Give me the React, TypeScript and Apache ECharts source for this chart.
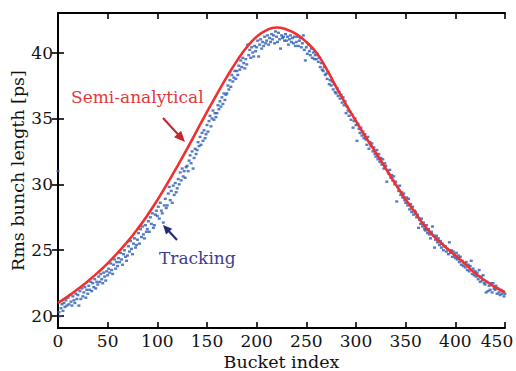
import React, { useEffect, useRef } from "react";
import * as echarts from "echarts";

const xTicks = [0, 50, 100, 150, 200, 250, 300, 350, 400, 450];
const yTicks = [20, 25, 30, 35, 40];

const curveBuckets = [0, 10, 20, 30, 40, 50, 60, 70, 80, 90, 100, 110, 120, 130, 140, 150, 160, 170, 180, 190, 200, 210, 220, 230, 240, 250, 260, 270, 280, 290, 300, 310, 320, 330, 340, 350, 360, 370, 380, 390, 400, 410, 420, 430, 440, 450];
const curveValues = [21.0, 21.5, 22.05, 22.65, 23.3, 24.0, 24.8, 25.65, 26.6, 27.65, 28.8, 30.05, 31.35, 32.7, 34.1, 35.5, 36.85, 38.15, 39.35, 40.4, 41.2, 41.7, 41.9, 41.75, 41.4, 40.8, 40.0, 38.8, 37.4, 36.05, 34.8, 33.55, 32.4, 31.2, 30.0, 28.85, 27.8, 26.75, 25.95, 25.25, 24.6, 23.95, 23.25, 22.7, 22.2, 21.8];

// one value per bucket, 0..450
const trackingValues = [
  31.0, 20.3, 20.0, 20.6, 20.9, 20.4, 21.0, 20.7, 21.2, 20.8,
  21.4, 20.9, 21.6, 21.1, 20.8, 21.5, 21.2, 21.0, 21.7, 21.3,
  21.6, 20.8, 21.9, 21.3, 22.1, 21.5, 21.8, 22.2, 21.4, 22.0,
  21.7, 22.3, 22.0, 22.6, 21.9, 22.5, 22.2, 22.8, 22.1, 22.6,
  22.4, 23.0, 22.6, 23.2, 22.8, 22.5, 23.3, 23.0, 22.7, 23.4,
  23.1, 23.6, 23.3, 24.0, 23.5, 23.2, 23.9, 24.3, 23.6, 24.1,
  23.8, 24.4, 24.1, 24.8, 24.3, 23.9, 24.7, 25.0, 24.5, 24.2,
  24.6, 25.3, 24.9, 25.7, 25.1, 24.7, 25.5, 25.9, 25.2, 25.4,
  25.8, 26.3, 25.5, 26.6, 26.0, 26.8, 26.2, 25.9, 26.9, 26.4,
  26.6, 27.2, 26.4, 27.5, 27.0, 27.8, 26.7, 26.9, 27.7, 28.0,
  27.6, 28.3, 27.4, 28.6, 28.0, 27.8, 27.1, 28.4, 28.9, 28.2,
  28.4, 29.3, 29.8, 28.8, 29.5, 28.6, 29.9, 29.2, 30.1, 29.4,
  29.7, 30.4, 30.0, 30.9, 30.3, 31.2, 30.6, 31.0, 30.5, 31.3,
  31.4, 31.0, 31.8, 32.2, 31.6, 32.5, 31.2, 32.0, 32.7, 32.3,
  32.6, 33.2, 32.9, 33.6, 33.0, 33.9, 33.3, 34.1, 33.5, 33.8,
  34.5, 34.0, 34.8, 35.2, 34.4, 35.0, 35.6, 34.9, 35.4, 35.1,
  35.4, 36.0, 35.7, 36.3, 35.9, 36.6, 36.1, 36.9, 36.4, 36.8,
  36.9, 37.5, 37.2, 37.9, 37.4, 38.3, 37.8, 38.1, 38.6, 38.0,
  38.6, 38.3, 39.0, 38.7, 39.4, 38.9, 39.6, 39.2, 38.8, 39.5,
  39.1, 40.6, 39.8, 40.2, 39.6, 40.4, 40.0, 39.7, 40.5, 40.1,
  40.4, 40.9, 39.7, 40.6, 41.0, 40.3, 40.8, 40.5, 41.2, 40.7,
  40.9, 41.3, 40.6, 41.1, 40.8, 41.4, 41.0, 41.3, 40.7, 41.6,
  41.2, 40.8, 41.5, 41.0, 40.3, 41.3, 41.1, 41.2, 40.9, 41.4,
  40.9, 41.2, 40.6, 41.0, 41.3, 40.8, 41.1, 40.7, 41.2, 40.5,
  40.8, 41.2, 40.5, 40.9, 41.1, 40.4, 40.7, 41.3, 40.2, 39.4,
  40.4, 39.9, 40.6, 40.1, 39.8, 40.3, 39.6, 40.0, 39.5, 39.8,
  39.5, 39.9, 39.3, 39.6, 38.9, 39.2, 38.7, 38.6, 38.9, 38.3,
  38.4, 38.0, 38.5, 37.6, 37.9, 37.5, 37.8, 37.2, 37.6, 37.0,
  36.9, 37.3, 36.7, 37.0, 36.5, 36.8, 36.2, 36.6, 36.0, 36.3,
  35.4, 35.9, 35.6, 35.2, 35.5, 34.9, 35.3, 34.3, 34.8, 35.0,
  34.5, 33.3, 34.6, 34.2, 33.9, 34.3, 33.7, 34.0, 33.5, 33.8,
  33.4, 33.0, 33.6, 32.7, 33.2, 32.9, 33.1, 32.5, 32.8, 32.3,
  32.1, 32.6, 31.9, 32.3, 31.7, 32.0, 31.5, 31.9, 31.2, 31.6,
  31.4, 30.2, 31.0, 30.8, 31.1, 30.5, 30.7, 30.3, 30.6, 30.0,
  30.2, 28.7, 29.8, 29.5, 29.9, 29.2, 29.4, 29.0, 29.3, 28.8,
  28.6, 29.0, 28.4, 28.9, 28.1, 28.5, 27.9, 28.3, 27.7, 28.0,
  27.9, 27.5, 27.7, 26.7, 27.3, 27.0, 27.4, 26.8, 27.1, 26.6,
  26.5, 26.9, 26.3, 26.6, 26.2, 25.9, 26.4, 26.8, 26.1, 25.2,
  25.8, 26.1, 25.6, 25.9, 25.4, 25.7, 25.2, 25.5, 25.0, 25.3,
  25.3, 24.9, 25.1, 24.7, 25.6, 24.8, 25.0, 24.5, 24.9, 24.6,
  24.4, 24.8, 24.3, 24.6, 24.1, 24.5, 23.9, 24.2, 23.8, 24.0,
  23.7, 24.1, 23.5, 23.9, 23.4, 23.8, 24.2, 23.2, 23.6, 23.1,
  23.4, 23.0, 23.3, 22.8, 23.5, 22.6, 23.0, 22.7, 23.1, 22.5,
  22.4, 21.8, 22.6, 21.9, 22.3, 22.0, 22.5, 21.8, 22.5, 22.1,
  22.0, 22.3, 21.7, 22.1, 21.8, 21.6, 22.0, 21.7, 21.9, 21.5,
  21.7,
];

const SERIF = "DejaVu Serif";

function arrow(x1: number, y1: number, x2: number, y2: number, color: string, headLen: number, halfW: number) {
  const dx = x2 - x1;
  const dy = y2 - y1;
  const len = Math.sqrt(dx * dx + dy * dy);
  const ux = dx / len;
  const uy = dy / len;
  const bx = x2 - ux * headLen;
  const by = y2 - uy * headLen;
  const nx = -uy;
  const ny = ux;
  return [
    {
      type: "line",
      shape: { x1, y1, x2: bx + ux * 1, y2: by + uy * 1 },
      style: { stroke: color, lineWidth: 2.2 },
    },
    {
      type: "polygon",
      shape: {
        points: [
          [x2, y2],
          [bx + nx * halfW, by + ny * halfW],
          [bx - nx * halfW, by - ny * halfW],
        ],
      },
      style: { fill: color },
    },
  ];
}

export default function App() {
  const ref = useRef<HTMLDivElement>(null);
  useEffect(() => {
    document.body.style.margin = "0";
    if (!ref.current) return;
    const chart = echarts.init(ref.current, null, { renderer: "svg" });
    const axisLine = { show: true, lineStyle: { color: "#000", width: 2 } };
    const tick = { show: true, inside: true, length: 6, lineStyle: { color: "#000", width: 1.6 } };
    const lastX = xTicks[xTicks.length - 1];
    chart.setOption({
      animation: false,
      backgroundColor: "#fff",
      textStyle: { fontFamily: SERIF },
      grid: { left: 58, right: 11, top: 13, bottom: 43, containLabel: false, outerBoundsMode: "none" },
      xAxis: [
        {
          type: "value",
          position: "bottom",
          min: 0,
          max: 450,
          interval: 50,
          name: "Bucket index",
          nameLocation: "middle",
          nameGap: 25,
          nameMoveOverlap: false,
          nameTextStyle: { fontFamily: SERIF, fontSize: 17.5, color: "#111" },
          axisLine,
          axisTick: tick,
          splitLine: { show: false },
          axisLabel: {
            fontFamily: SERIF,
            fontSize: 17,
            color: "#111",
            margin: 4,
            customValues: xTicks,
            formatter: (v: number) => (v === lastX ? `{last|${v}}` : `${v}`),
            rich: {
              last: { fontFamily: SERIF, fontSize: 17, color: "#111", padding: [0, 16, 0, 0] },
            },
          },
        },
        {
          type: "value",
          position: "top",
          min: 0,
          max: 450,
          interval: 50,
          axisLine,
          axisTick: tick,
          splitLine: { show: false },
          axisLabel: { show: false },
        },
      ],
      yAxis: [
        {
          type: "value",
          position: "left",
          min: 19.1,
          max: 43,
          name: "Rms bunch length [ps]",
          nameLocation: "middle",
          nameGap: 31,
          nameMoveOverlap: false,
          nameTextStyle: { fontFamily: SERIF, fontSize: 17.5, color: "#111" },
          axisLine,
          axisTick: { ...tick, customValues: yTicks },
          splitLine: { show: false },
          axisLabel: { fontFamily: SERIF, fontSize: 17, color: "#111", margin: 5, customValues: yTicks },
        },
        {
          type: "value",
          position: "right",
          min: 19.1,
          max: 43,
          axisLine,
          axisTick: { ...tick, customValues: yTicks },
          splitLine: { show: false },
          axisLabel: { show: false, customValues: yTicks },
        },
      ],
      series: [
        {
          type: "scatter",
          name: "Tracking",
          data: trackingValues.map((v, i) => [i, v]),
          symbol: "rect",
          symbolSize: [3, 2.4],
          itemStyle: { color: "#2a5cb4" },
          z: 2,
        },
        {
          type: "line",
          name: "Semi-analytical",
          data: curveBuckets.map((b, i) => [b, curveValues[i]]),
          smooth: true,
          showSymbol: false,
          lineStyle: { color: "#f0302f", width: 2.6 },
          z: 3,
        },
      ],
      graphic: [
        {
          type: "text",
          left: 71,
          top: 88,
          style: { text: "Semi-analytical", fontFamily: SERIF, fontSize: 17, fill: "#e5373b" },
        },
        {
          type: "text",
          left: 159,
          top: 249,
          style: { text: "Tracking", fontFamily: SERIF, fontSize: 17, fill: "#3a3d95" },
        },
        ...arrow(163, 118, 185, 142, "#c8252d", 11, 4.8),
        ...arrow(177, 240, 163, 225, "#262a7a", 9, 4.2),
      ],
    });
    return () => chart.dispose();
  }, []);
  return <div ref={ref} style={{ width: 516, height: 371 }} />;
}
